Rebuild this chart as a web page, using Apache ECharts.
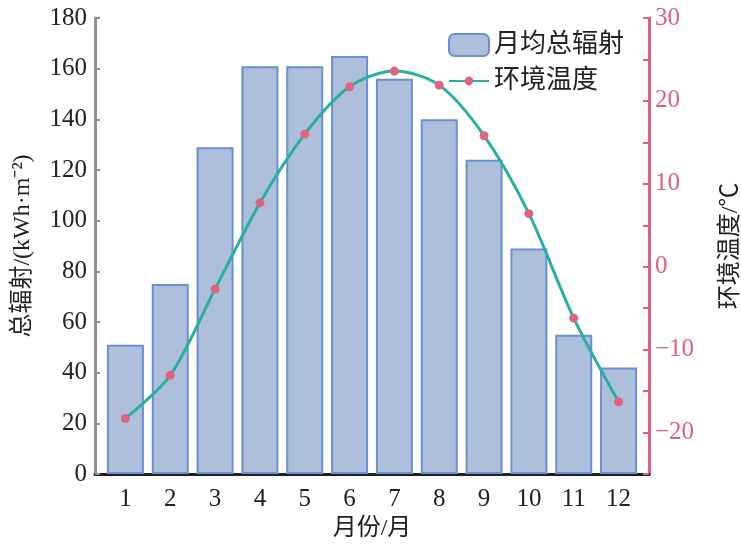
<!DOCTYPE html>
<html>
<head>
<meta charset="utf-8">
<script src="https://cdn.jsdelivr.net/npm/echarts@6/dist/echarts.min.js"></script>
<style>html,body{margin:0;padding:0;background:#fff}#c{width:741px;height:546px}</style>
</head>
<body>
<div id="c"></div>
<script>
const months = ['1','2','3','4','5','6','7','8','9','10','11','12'];
const radiation = [51, 75, 129, 161, 161, 165, 156, 140, 124, 89, 55, 42];
const temperature = [-18.3, -13.1, -2.7, 7.7, 16.0, 21.7, 23.6, 21.9, 15.8, 6.4, -6.2, -16.3];
const leftTicks = [0, 20, 40, 60, 80, 100, 120, 140, 160, 180];
const rightTicks = [-20, -10, 0, 10, 20, 30];

const FONT = '"Liberation Serif", "Times New Roman", "Noto Sans CJK SC", serif';
const chart = echarts.init(document.getElementById('c'), null, {renderer: 'canvas'});
chart.setOption({
  backgroundColor: '#ffffff',
  animation: false,
  textStyle: {fontFamily: FONT},
  legend: [
    {
      orient: 'vertical', left: 443, top: 27, itemWidth: 40, itemHeight: 22, itemGap: 10,
      textStyle: {fontSize: 26, color: '#222', fontFamily: FONT},
      data: [{name: '月均总辐射'}]
    },
    {
      orient: 'vertical', left: 443, top: 63, itemWidth: 40, itemHeight: 11, itemGap: 10,
      textStyle: {fontSize: 26, color: '#222', fontFamily: FONT},
      data: [{name: '环境温度'}]
    }
  ],
  grid: [
    {left: 103, right: 100, top: 18, bottom: 72, containLabel: false, outerBoundsMode: 'none'},
    {left: 95, right: 92, top: 18, bottom: 72, containLabel: false, outerBoundsMode: 'none'}
  ],
  xAxis: [
    {
      type: 'category', gridIndex: 0, data: months, boundaryGap: true,
      axisLine: {show: false},
      axisTick: {show: true, inside: true, alignWithLabel: true, length: 6, lineStyle: {color: '#222', width: 2}},
      axisLabel: {fontSize: 25, color: '#222', margin: 13, fontFamily: FONT},
      name: '月份/月', nameLocation: 'middle', nameGap: 40,
      nameTextStyle: {fontSize: 24, color: '#222', fontFamily: FONT}
    },
    {
      type: 'value', gridIndex: 1, min: 0, max: 1,
      axisLine: {show: true, lineStyle: {color: '#222', width: 3}},
      axisTick: {show: false}, axisLabel: {show: false}, splitLine: {show: false}
    }
  ],
  yAxis: [
    {
      type: 'value', gridIndex: 0, position: 'left', offset: 8, min: 0, max: 180, interval: 20,
      axisLine: {show: true, lineStyle: {color: '#8b929c', width: 3}},
      axisTick: {show: true, inside: true, length: 5, lineStyle: {color: '#8b929c', width: 2}},
      axisLabel: {fontSize: 25, color: '#222', margin: 8, fontFamily: FONT},
      splitLine: {show: false},
      name: '总辐射/(kWh·m⁻²)', nameLocation: 'middle', nameGap: 60,
      nameTextStyle: {fontSize: 24, color: '#222', fontFamily: FONT}
    },
    {
      type: 'value', gridIndex: 0, position: 'right', offset: 8, min: -25, max: 30, interval: 5,
      axisLine: {show: true, lineStyle: {color: '#df5f7d', width: 3}},
      axisTick: {show: true, inside: true, length: 6, lineStyle: {color: '#df5f7d', width: 2},
        interval: function(i, v){ return rightTicks.indexOf(Number(v)) >= 0; }},
      axisLabel: {fontSize: 25, color: '#df5f7d', margin: 6, fontFamily: FONT,
        formatter: function(v){ return rightTicks.indexOf(v) >= 0 ? (v < 0 ? '\u2212' + (-v) : String(v)) : ''; }},
      splitLine: {show: false},
      name: '环境温度/℃', nameLocation: 'middle', nameGap: 70,
      nameTextStyle: {fontSize: 24, color: '#222', fontFamily: FONT}
    },
    {
      type: 'value', gridIndex: 1, min: 0, max: 1, show: false
    }
  ],
  series: [
    {
      name: '月均总辐射', type: 'bar', xAxisIndex: 0, yAxisIndex: 0, data: radiation,
      barWidth: 37,
      itemStyle: {color: '#aebfdb', borderColor: '#6a8fd2', borderWidth: 2}
    },
    {
      name: '环境温度', type: 'line', xAxisIndex: 0, yAxisIndex: 1, data: temperature,
      smooth: 0.3, symbol: 'circle', symbolSize: 9,
      lineStyle: {color: '#27b0a0', width: 3},
      itemStyle: {color: '#e0637f'},
      z: 5
    }
  ]
});
</script>
</body>
</html>
